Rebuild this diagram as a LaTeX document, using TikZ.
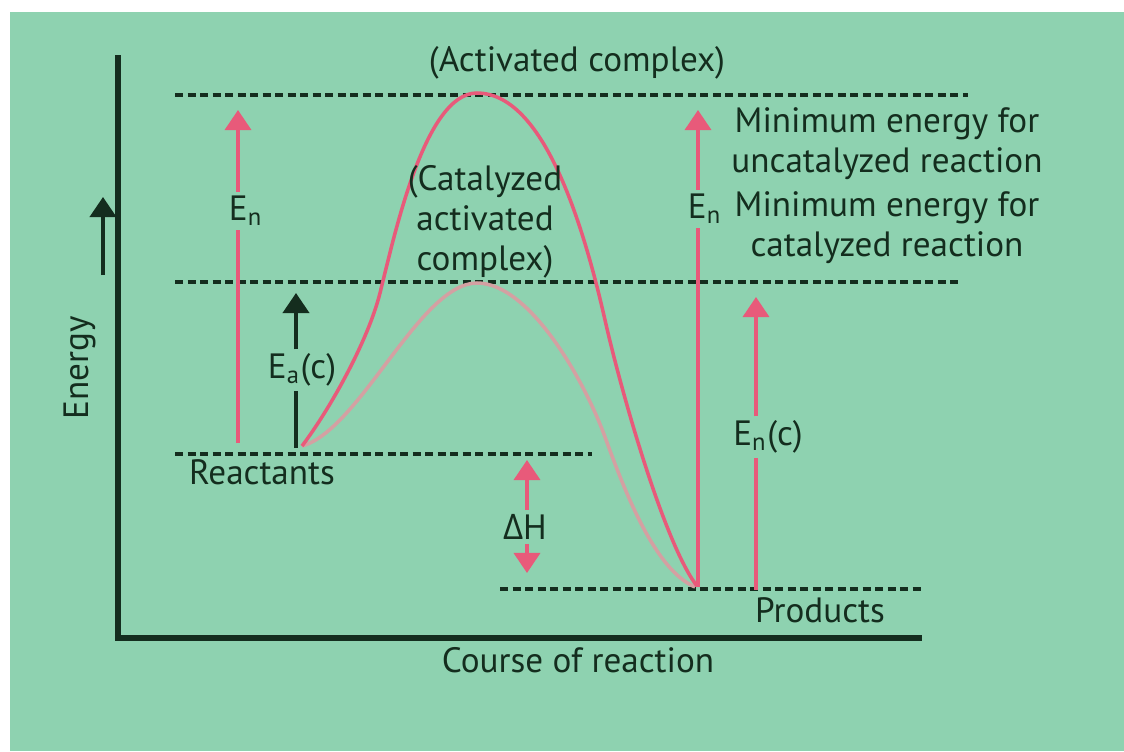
\documentclass[tikz,border=0pt]{standalone}
\usepackage{fontspec}
\setmainfont{PT Sans}
\newfontfamily\greekfont{Open Sans}
\usetikzlibrary{arrows.meta}
\definecolor{mint}{RGB}{142,210,176}
\definecolor{rosy}{RGB}{232,90,122}
\definecolor{palerosy}{RGB}{212,160,162}
\definecolor{ink}{RGB}{20,45,30}

\begin{document}
\begin{tikzpicture}[x=0.01cm, y=-0.01cm, >={Triangle[width=2.6mm, length=2mm]},
    every node/.style={text=ink, inner sep=1pt, font=\fontsize{10}{11.4}\selectfont},
    level/.style={ink, line width=0.9pt, dash pattern=on 0.8mm off 0.45mm},
    rosyline/.style={rosy, line width=1pt},
    inkline/.style={ink, line width=1.1pt}]

      % background
      \fill[white] (0,0) rectangle (1124,751);
      \fill[mint] (10,12) rectangle (1124,751);

      % axes
      \coordinate (ytop) at (118,55);
      \coordinate (origin) at (118,638);
      \coordinate (xend) at (922,638);
      \draw[ink, line width=1.5pt] (ytop) -- (origin) -- (xend);
      \node (course) at (578,660) {Course of reaction};
      \node[rotate=90] (energy) at (80,368) {Energy};
      \coordinate (etail) at (103,275);
      \coordinate (ehead) at (103,197);
      \draw[->, inkline] (etail) -- (ehead);

      % energy levels
      \coordinate (actL) at (175,95);   \coordinate (actR) at (968,95);
      \coordinate (catL) at (175,282);  \coordinate (catR) at (962,282);
      \coordinate (reaL) at (175,454);  \coordinate (reaR) at (592,454);
      \coordinate (proL) at (500,589);  \coordinate (proR) at (925,589);
      \draw[level] (actL) -- (actR);
      \draw[level] (catL) -- (catR);
      \draw[level] (reaL) -- (reaR);
      \draw[level] (proL) -- (proR);

      % reaction paths
      \coordinate (start) at (302,446);
      \coordinate (peakcat) at (477,283);
      \coordinate (peakun) at (477,93);
      \draw[palerosy, line width=1pt] (start) .. controls (360,430) and (420,283) .. (peakcat)
        .. controls (530,283) and (585,382) .. (605,437)
        .. controls (625,492) and (655,570) .. (695,587);
      \draw[rosyline] (start) .. controls (330,409) and (368,341) .. (380,293)
        .. controls (395,233) and (425,93) .. (peakun)
        .. controls (540,93) and (580,210) .. (605,320)
        .. controls (622,395) and (665,545) .. (697,586);

      \node (activ) at (577,63) {(Activated complex)};
      \node[align=center] (catac) at (485,222) {(Catalyzed\\ activated\\ complex)};
      \node (react) at (262,472) {Reactants};
      \node (prod) at (820,610) {Products};
      \node[align=center] (minun) at (887,144) {Minimum energy for\\ uncatalyzed reaction};
      \node[align=center] (mincat) at (887,228) {Minimum energy for\\ catalyzed reaction};

      % E_n, left
      \coordinate (enLbase) at (238,443);
      \coordinate (enLtop) at (238,110);
      \node (enL) at (246,211) {E\textsubscript{n}};
      \draw[rosyline] (enLbase) -- (enLbase |- enL.south);
      \draw[rosyline, ->] (enLbase |- enL.north) -- (enLtop);

      % E_a(c)
      \coordinate (eaBase) at (296,448);
      \coordinate (eaTop) at (296,293);
      \node (ea) at (302,370) {E\textsubscript{a}(c)};
      \draw[inkline] (eaBase) -- (eaBase |- ea.south);
      \draw[inkline, ->] (eaBase |- ea.north) -- (eaTop);

      % Delta H
      \coordinate (dhTop) at (527,460);
      \coordinate (dhBot) at (527,573);
      \node (dh) at (525,527) {{\greekfont Δ}H};
      \draw[rosyline, ->] (dhTop |- dh.north) -- (dhTop);
      \draw[rosyline, ->] (dhBot |- dh.south) -- (dhBot);

      % E_n, right
      \coordinate (enRbase) at (698,587);
      \coordinate (enRtop) at (698,110);
      \node (enR) at (705,209) {E\textsubscript{n}};
      \draw[rosyline] (enRbase) -- (enRbase |- enR.south);
      \draw[rosyline, ->] (enRbase |- enR.north) -- (enRtop);

      % E_n(c)
      \coordinate (encBase) at (756,590);
      \coordinate (encTop) at (756,297);
      \node (enc) at (768,437) {E\textsubscript{n}(c)};
      \draw[rosyline] (encBase) -- (encBase |- enc.south);
      \draw[rosyline, ->] (encBase |- enc.north) -- (encTop);
\end{tikzpicture}
\end{document}
